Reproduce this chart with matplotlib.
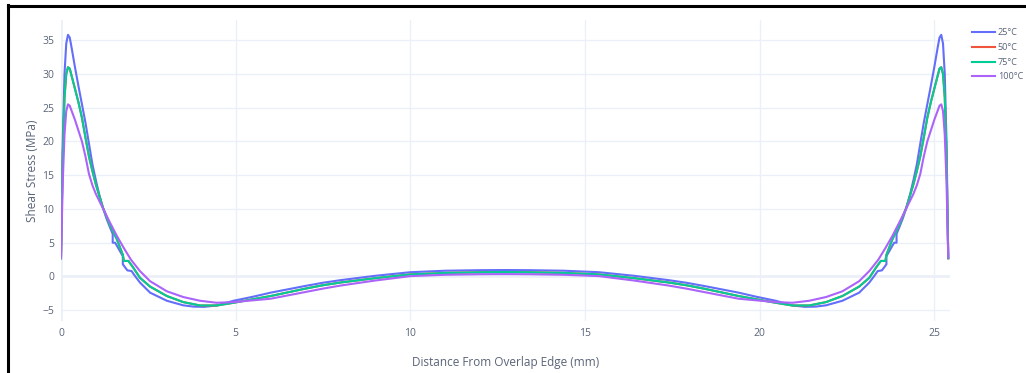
import matplotlib
matplotlib.use("Agg")
import matplotlib.pyplot as plt
from matplotlib.lines import Line2D

plt.rcParams['font.family'] = ['Open Sans', 'DejaVu Sans']

# shear stress along the overlap, one trace per temperature
x_25 = [0, 0.05, 0.1, 0.15, 0.2, 0.25, 0.3, 0.4, 0.5, 0.6, 0.7, 0.8, 0.9, 1.0, 1.1, 1.2,
        1.3, 1.4, 1.48, 1.48, 1.55, 1.66, 1.77, 1.77, 1.9, 2.02, 2.1, 2.26, 2.55, 3.03, 3.5,
        3.8, 4.1, 4.46, 4.94, 5.5, 6.0, 7.0, 7.5, 8.0, 9.0, 10.0, 11.0, 12.0, 12.7,
        13.4, 14.4, 15.4, 16.4, 17.4, 17.9, 18.4, 19.4, 19.9, 20.46, 20.94, 21.3,
        21.6, 21.9, 22.37, 22.85, 23.14, 23.3, 23.38, 23.5, 23.63, 23.63, 23.74, 23.85,
        23.92, 23.92, 24.0, 24.1, 24.2, 24.3, 24.4, 24.5, 24.6, 24.7, 24.8, 24.9, 25.0,
        25.1, 25.15, 25.2, 25.25, 25.3, 25.35, 25.4]
y_25 = [2.7, 20.0, 30.0, 34.5, 35.8, 35.4, 34.0, 31.0, 28.2, 25.5, 22.8, 19.7, 16.6, 14.2, 12.0, 10.2,
        8.6, 7.3, 6.3, 5.0, 5.0, 4.0, 3.0, 1.8, 0.9, 0.8, 0.2, -0.9, -2.4, -3.6, -4.28,
        -4.47, -4.5, -4.3, -3.6, -3.0, -2.4, -1.4, -0.93, -0.55, 0.1, 0.63, 0.85, 0.93, 0.95,
        0.93, 0.85, 0.63, 0.1, -0.55, -0.93, -1.4, -2.4, -3.0, -3.6, -4.3, -4.5,
        -4.47, -4.28, -3.6, -2.4, -0.9, 0.2, 0.8, 0.9, 1.8, 3.0, 4.0, 5.0,
        5.0, 6.3, 7.3, 8.6, 10.2, 12.0, 14.2, 16.6, 19.7, 22.8, 25.5, 28.2, 31.0,
        34.0, 35.4, 35.8, 34.5, 30.0, 20.0, 2.7]

x_75 = [0, 0.05, 0.1, 0.15, 0.2, 0.25, 0.3, 0.4, 0.5, 0.6, 0.7, 0.8, 0.9, 1.0, 1.2, 1.4,
        1.6, 1.77, 1.8, 1.93, 2.07, 2.26, 2.55, 3.03, 3.5, 3.98, 4.46, 4.94, 6.0, 7.0,
        7.5, 8.0, 9.0, 10.0, 11.0, 12.0, 12.7, 13.4, 14.4, 15.4, 16.4, 17.4, 17.9,
        18.4, 19.4, 20.46, 20.94, 21.42, 21.9, 22.37, 22.85, 23.14, 23.33, 23.47, 23.6,
        23.63, 23.8, 24.0, 24.2, 24.4, 24.5, 24.6, 24.7, 24.8, 24.9, 25.0, 25.1, 25.15,
        25.2, 25.25, 25.3, 25.35, 25.4]
y_75 = [2.7, 18.0, 26.5, 30.0, 31.0, 30.8, 29.8, 27.8, 25.8, 23.5, 20.6, 17.8, 15.6, 13.6, 10.2, 7.6,
        5.5, 3.2, 2.3, 2.3, 1.3, -0.2, -1.5, -2.9, -3.8, -4.3, -4.3, -3.9, -2.9, -1.8,
        -1.3, -0.9, -0.25, 0.3, 0.52, 0.62, 0.65, 0.62, 0.52, 0.3, -0.25, -0.9, -1.3,
        -1.8, -2.9, -3.9, -4.3, -4.3, -3.8, -2.9, -1.5, -0.2, 1.3, 2.3, 2.3,
        3.2, 5.5, 7.6, 10.2, 13.6, 15.6, 17.8, 20.6, 23.5, 25.8, 27.8, 29.8, 30.8,
        31.0, 30.0, 26.5, 18.0, 2.7]

# the 50 °C result coincides with 75 °C
x_50 = list(x_75)
y_50 = list(y_75)

x_100 = [0, 0.05, 0.1, 0.15, 0.2, 0.25, 0.3, 0.4, 0.5, 0.6, 0.7, 0.8, 0.9, 1.0, 1.2, 1.4,
         1.6, 1.8, 2.0, 2.26, 2.55, 3.03, 3.5, 3.98, 4.46, 4.94, 6.0, 7.0, 7.5, 8.0, 9.0,
         10.0, 11.0, 12.0, 12.7, 13.4, 14.4, 15.4, 16.4, 17.4, 17.9, 18.4, 19.4, 20.46,
         20.94, 21.42, 21.9, 22.37, 22.85, 23.14, 23.4, 23.6, 23.8, 24.0, 24.2, 24.4, 24.5,
         24.6, 24.7, 24.8, 24.9, 25.0, 25.1, 25.15, 25.2, 25.25, 25.3, 25.35, 25.4]
y_100 = [2.8, 14.0, 21.0, 24.5, 25.5, 25.3, 24.6, 23.2, 21.6, 20.0, 17.8, 15.2, 13.5, 12.2, 10.1, 8.0,
         6.0, 4.2, 2.5, 0.8, -0.7, -2.2, -3.05, -3.6, -3.9, -3.8, -3.3, -2.3, -1.8, -1.35, -0.6,
         0.05, 0.25, 0.33, 0.35, 0.33, 0.25, 0.05, -0.6, -1.35, -1.8, -2.3, -3.3, -3.8,
         -3.9, -3.6, -3.05, -2.2, -0.7, 0.8, 2.5, 4.2, 6.0, 8.0, 10.1, 12.2, 13.5,
         15.2, 17.8, 20.0, 21.6, 23.2, 24.6, 25.3, 25.5, 24.5, 21.0, 14.0, 2.8]

labels = ['25°C', '50°C', '75°C', '100°C']
colors = ['#636efa', '#EF553B', '#00cc96', '#ab63fa']
series = [(x_25, y_25), (x_50, y_50), (x_75, y_75), (x_100, y_100)]

fig = plt.figure(figsize=(10.26, 3.73), dpi=100)
W, H = 1026, 373
ax = fig.add_axes([61 / W, 1 - 321 / H, (950 - 61) / W, (321 - 20) / H])

for (xs, ys), lab, c in zip(series, labels, colors):
    ax.plot(xs, ys, color=c, lw=1.5, label=lab, solid_joinstyle='round')

ax.set_xlim(0, 25.45)
ax.set_ylim(-6.6, 38.0)
ax.set_xticks([0, 5, 10, 15, 20, 25])
ax.set_yticks([-5, 0, 5, 10, 15, 20, 25, 30, 35])
ax.grid(True, color='#EBF0F8', lw=1)
ax.axhline(0, color='#EBF0F8', lw=1.8, zorder=0)
ax.axvline(0, color='#EBF0F8', lw=1.8, zorder=0)
ax.set_axisbelow(True)
for s in ax.spines.values():
    s.set_visible(False)
ax.tick_params(length=0, labelsize=7.5, labelcolor='#5a6478', pad=5)

ax.set_xlabel('Distance From Overlap Edge (mm)', fontsize=8.5, color='#5a6478', labelpad=12)
ax.set_ylabel('Shear Stress (MPa)', fontsize=8.5, color='#5a6478', labelpad=2)

ax.legend(loc='upper left', bbox_to_anchor=(1.0244, 0.972), frameon=False,
          borderpad=0, borderaxespad=0, fontsize=6.6, handlelength=2.5,
          handletextpad=0.35, labelspacing=0.62, labelcolor='#5a6478')

# frame lines along the top and left of the canvas
fig.add_artist(Line2D([7.5 / W, 7.5 / W], [0, 1 - 5 / H], color='black', lw=2.2,
                      transform=fig.transFigure))
fig.add_artist(Line2D([7.5 / W, 1], [1 - 5.5 / H, 1 - 5.5 / H], color='black', lw=2.2,
                      transform=fig.transFigure))

fig.savefig('out.png', dpi=100)
